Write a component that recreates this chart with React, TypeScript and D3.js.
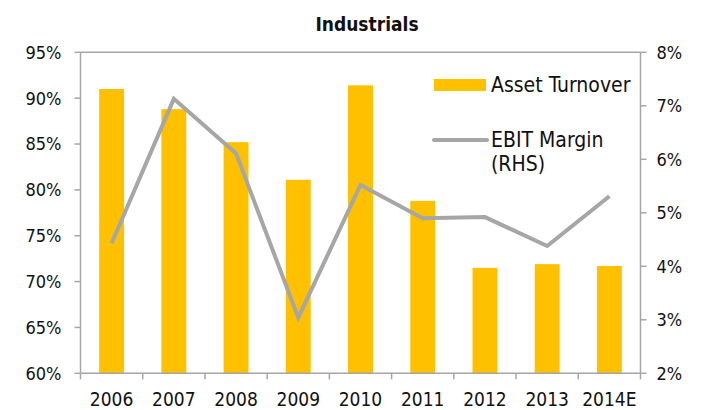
import * as d3 from "d3";

const years = ["2006", "2007", "2008", "2009", "2010", "2011", "2012", "2013", "2014E"];
const assetTurnover = [91.0, 88.8, 85.2, 81.1, 91.4, 78.8, 71.5, 71.9, 71.7];
const ebitMargin = [4.43, 7.13, 6.11, 3.04, 5.52, 4.9, 4.92, 4.38, 5.31];
const leftTicks = [60, 65, 70, 75, 80, 85, 90, 95];
const rightTicks = [2, 3, 4, 5, 6, 7, 8];

const W = 722;
const H = 410;
const M = { left: 80.5, right: 640.5, top: 52.3, bottom: 373.3 };
const FONT = "'DejaVu Sans Condensed', 'DejaVu Sans', sans-serif";
const AXIS = "#a6a6a6";
const BAR = "#ffc000";
const LINE = "#a6a6a6";

export default function App() {
  const x = d3.scaleBand<string>().domain(years).range([M.left, M.right]).paddingInner(0.6).paddingOuter(0.3);
  const band = d3.scaleBand<string>().domain(years).range([M.left, M.right]);
  const yL = d3.scaleLinear().domain([60, 95]).range([M.bottom, M.top]);
  const yR = d3.scaleLinear().domain([2, 8]).range([M.bottom, M.top]);

  const line = d3.line<number>()
    .x((_, i) => band(years[i])! + band.bandwidth() / 2)
    .y(d => yR(d));

  return (
    <svg width={W} height={H} style={{ position: "absolute", left: 0, top: 0, background: "white" }} fontFamily={FONT}>
      <text x={367} y={31} textAnchor="middle" fontSize={19} fontWeight="bold" fill="#111">Industrials</text>

      {/* bars */}
      {assetTurnover.map((v, i) => (
        <rect key={years[i]} x={x(years[i])} y={yL(v)} width={x.bandwidth()} height={yL(60) - yL(v)} fill={BAR} />
      ))}

      {/* line */}
      <path d={line(ebitMargin) ?? ""} fill="none" stroke={LINE} strokeWidth={4} strokeLinejoin="miter" />

      {/* axes */}
      <line x1={M.left} x2={M.right} y1={M.top} y2={M.top} stroke={AXIS} strokeWidth={1.5} />
      <line x1={M.left} x2={M.right} y1={M.bottom} y2={M.bottom} stroke={AXIS} strokeWidth={1.5} />
      <line x1={M.left} x2={M.left} y1={M.top} y2={M.bottom} stroke={AXIS} strokeWidth={1.5} />
      <line x1={M.right} x2={M.right} y1={M.top} y2={M.bottom} stroke={AXIS} strokeWidth={1.5} />

      {leftTicks.map(t => (
        <g key={"l" + t}>
          <line x1={M.left - 6} x2={M.left} y1={yL(t)} y2={yL(t)} stroke={AXIS} strokeWidth={1.5} />
          <text x={M.left - 19} y={yL(t)} dy="0.36em" textAnchor="end" fontSize={18} fill="#111">{t}%</text>
        </g>
      ))}
      {rightTicks.map(t => (
        <g key={"r" + t}>
          <line x1={M.right} x2={M.right + 6} y1={yR(t)} y2={yR(t)} stroke={AXIS} strokeWidth={1.5} />
          <text x={M.right + 16} y={yR(t)} dy="0.36em" textAnchor="start" fontSize={18} fill="#111">{t}%</text>
        </g>
      ))}
      {years.map(yr => (
        <g key={"x" + yr}>
          <line x1={band(yr)} x2={band(yr)} y1={M.bottom} y2={M.bottom + 6} stroke={AXIS} strokeWidth={1.5} />
          <text x={band(yr)! + band.bandwidth() / 2} y={406} textAnchor="middle" fontSize={19} fill="#111">{yr}</text>
        </g>
      ))}
      <line x1={M.right} x2={M.right} y1={M.bottom} y2={M.bottom + 6} stroke={AXIS} strokeWidth={1.5} />

      {/* legend */}
      <rect x={434} y={79} width={52} height={12} fill={BAR} />
      <text x={491} y={92} fontSize={21} fill="#111">Asset Turnover</text>
      <line x1={434} x2={487} y1={140} y2={140} stroke={LINE} strokeWidth={4} strokeLinecap="round" />
      <text x={491} y={147} fontSize={21} fill="#111">EBIT Margin</text>
      <text x={491} y={171} fontSize={21} fill="#111">(RHS)</text>
    </svg>
  );
}
